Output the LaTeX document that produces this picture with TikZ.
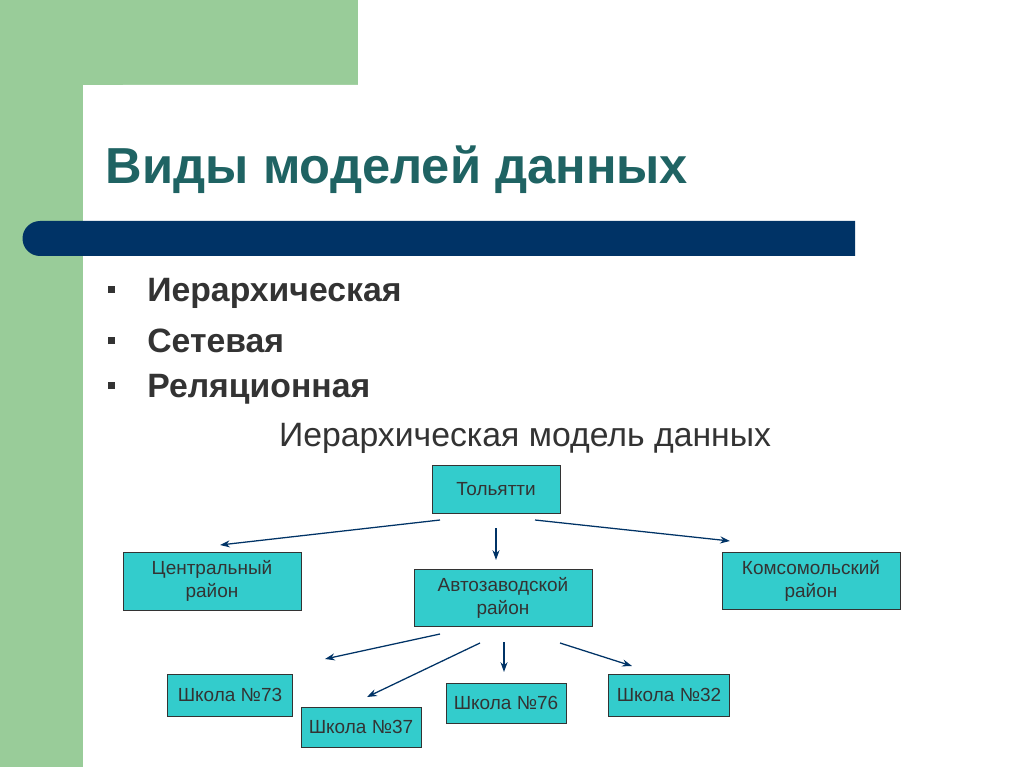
\documentclass[tikz,border=0pt]{standalone}
\usepackage{fontspec}
\setmainfont{Liberation Sans}
\usetikzlibrary{positioning,arrows.meta}
\definecolor{leaf}{HTML}{99CC99}
\definecolor{navy}{HTML}{003366}
\definecolor{teal1}{HTML}{1F6363}
\definecolor{turq}{HTML}{33CCCC}
\definecolor{ink}{HTML}{333333}
\begin{document}
\begin{tikzpicture}[x=0.025cm,y=-0.025cm,
    box/.style={draw=ink,fill=turq,font=\fontsize{13.5}{16}\selectfont,text=ink,align=center,inner sep=2pt},
    link/.style={-{Stealth[length=7pt,width=5pt]},navy,line width=0.9pt}]
\useasboundingbox (0,0) rectangle (1024,767);
\fill[white] (0,0) rectangle (1024,767);
\fill[leaf] (0,0) rectangle (358,85);
\fill[leaf] (0,0) rectangle (83,767);
\fill[white] (83,767) -- (83,125) arc[start angle=180,end angle=270,radius=40] -- (1024,85) -- (1024,767) -- cycle;
\fill[navy] (40,221) -- (855,221) -- (855,256) -- (40,256) arc[start angle=90,end angle=270,radius=17.5] -- cycle;

\node[anchor=west,text=teal1,font=\fontsize{36}{42}\selectfont\bfseries] (title) at (101,170) {Виды моделей данных};
\foreach \y/\t [count=\i] in {293/Иерархическая,341/Сетевая,389/Реляционная}
  \node[anchor=west,text=ink,font=\fontsize{24}{28}\selectfont\bfseries] (b\i) at (103,\y)
    {\makebox[28pt][l]{\raisebox{6pt}{\rule{5pt}{5pt}}}\t};
\node[text=ink,font=\fontsize{24}{28}\selectfont] (sub) at (525,438) {Иерархическая модель данных};

\node[box,minimum width=128*0.025cm,minimum height=48*0.025cm] (tlt) at (496,489) {Тольятти};
\node[box,minimum width=178*0.025cm,minimum height=58*0.025cm] (cen) at (212,581) {Центральный\\район};
\node[box,minimum width=178*0.025cm,minimum height=57*0.025cm] (avt) at (503,598) {Автозаводской\\район};
\node[box,minimum width=178*0.025cm,minimum height=57*0.025cm] (kom) at (811,581) {Комсомольский\\район};
\node[box,minimum width=125*0.025cm,minimum height=42*0.025cm] (s73) at (230,695) {Школа №73};
\node[box,minimum width=120*0.025cm,minimum height=40*0.025cm] (s37) at (361,727) {Школа №37};
\node[box,minimum width=120*0.025cm,minimum height=40*0.025cm] (s76) at (506,703) {Школа №76};
\node[box,minimum width=121*0.025cm,minimum height=42*0.025cm] (s32) at (669,695) {Школа №32};

% arrow ends
\coordinate (t1) at (440,520); \coordinate (e1) at (220,545);
\coordinate (t2) at (496,528); \coordinate (e2) at (496,560);
\coordinate (t3) at (535,520); \coordinate (e3) at (730,541);
\coordinate (a1) at (440,634); \coordinate (f1) at (325,659);
\coordinate (a2) at (480,643); \coordinate (f2) at (367,697);
\coordinate (a3) at (504,642); \coordinate (f3) at (504,672);
\coordinate (a4) at (560,643); \coordinate (f4) at (632,666);
\foreach \s/\e in {t1/e1,t2/e2,t3/e3,a1/f1,a2/f2,a3/f3,a4/f4}
  \draw[link] (\s) -- (\e);
\end{tikzpicture}
\end{document}
